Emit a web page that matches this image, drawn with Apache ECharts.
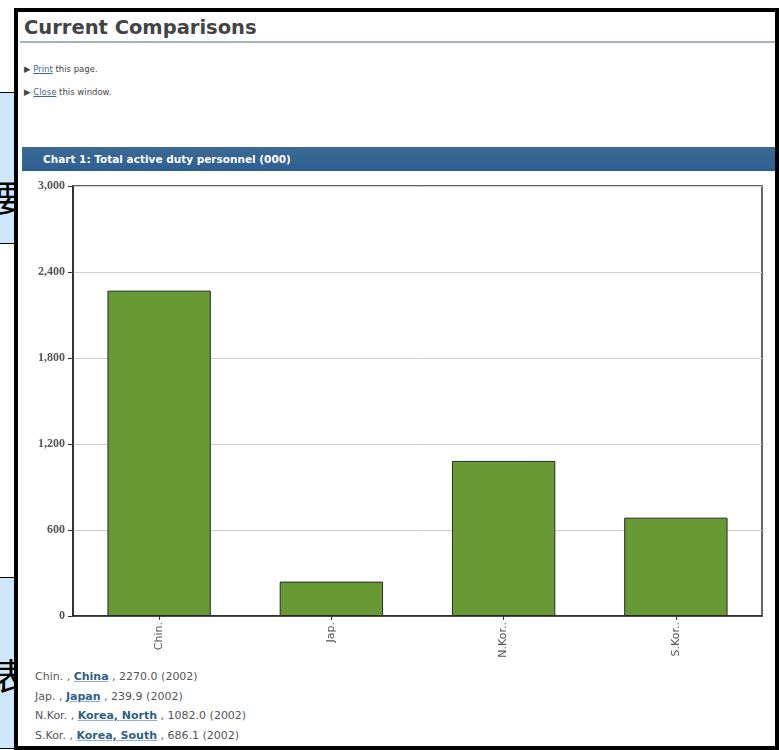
<!DOCTYPE html>
<html>
<head>
<meta charset="utf-8">
<script src="https://cdn.jsdelivr.net/npm/echarts@6/dist/echarts.min.js"></script>
<style>
  html, body { margin:0; padding:0; width:779px; height:750px; overflow:hidden; background:#fff; font-family:"DejaVu Sans", Verdana, sans-serif; }
  .abs { position:absolute; }
  .sidebox { position:absolute; left:-2px; width:60px; background:#cfe7fb; border:1px solid #000; }
  .cjk { position:absolute; font-family:"Noto Sans CJK SC"; font-size:36px; line-height:36px; color:#000; }
  #frame { position:absolute; left:14px; top:8px; width:757px; height:734px; border:4px solid #000; background:#fff; }
  #title { left:24px; top:16px; font-size:19.5px; font-weight:bold; color:#444; white-space:nowrap; }
  #titleRule { left:20px; top:41px; width:755px; height:2px; background:#a3b1c4; }
  .link { font-size:8.5px; color:#444; white-space:nowrap; }
  .link u { color:#3a6b9a; }
  #bar { left:22px; top:147px; width:753px; height:24px; background:linear-gradient(#3d6a95,#2c5f92); }
  #barText { left:43px; top:147px; height:24px; line-height:24px; font-size:10.5px; font-weight:bold; color:#fff; white-space:nowrap; }
  #notes { left:35px; top:667px; font-size:11px; color:#555; }
  #notes div { height:19.5px; line-height:19.5px; white-space:nowrap; }
  #notes b { color:#2f5f8c; text-decoration:underline; text-decoration-color:#8fb0cc; }
  #chart { position:absolute; left:0; top:0; width:779px; height:750px; }
</style>
</head>
<body>
<div class="sidebox" style="top:92px;height:150px;"></div>
<div class="cjk" style="left:-6px;top:178px;">要</div>
<div class="sidebox" style="top:577px;height:170px;"></div>
<div class="cjk" style="left:-7px;top:656px;">表</div>
<div id="frame"></div>
<div class="abs" id="title">Current Comparisons</div>
<div class="abs" id="titleRule"></div>
<div class="abs link" style="left:24px;top:64px;">&#9654; <u>Print</u> this page.</div>
<div class="abs link" style="left:24px;top:87px;">&#9654; <u>Close</u> this window.</div>
<div class="abs" id="bar"></div>
<div class="abs" id="barText">Chart 1: Total active duty personnel (000)</div>
<div class="abs" id="notes"></div>
<div id="chart"></div>
<script>
const categories = ['Chin.', 'Jap.', 'N.Kor..', 'S.Kor..'];
const countryNames = ['China', 'Japan', 'Korea, North', 'Korea, South'];
const personnel = [2270.0, 239.9, 1082.0, 686.1];
const dataYears = [2002, 2002, 2002, 2002];
const yTickLabels = ['0', '600', '1,200', '1,800', '2,400', '3,000'];

const notes = document.getElementById('notes');
categories.forEach((c, i) => {
  const d = document.createElement('div');
  const abbr = c.replace(/\.+$/, '.');
  d.innerHTML = abbr + ' , <b>' + countryNames[i] + '</b> , ' + personnel[i].toFixed(1) + ' (' + dataYears[i] + ')';
  notes.appendChild(d);
});

const chart = echarts.init(document.getElementById('chart'), null, { renderer: 'canvas' });
chart.setOption({
  backgroundColor: 'transparent',
  animation: false,
  grid: { left: 73, top: 186, right: 17, bottom: 134, show: true, borderColor: '#333', borderWidth: 1.5, containLabel: false },
  xAxis: {
    type: 'category',
    data: categories,
    axisLine: { lineStyle: { color: '#222', width: 1.5 } },
    axisTick: { show: true, alignWithLabel: true, length: 4, lineStyle: { color: '#333' } },
    axisLabel: { rotate: 90, color: '#555', fontSize: 11, fontFamily: 'DejaVu Sans', margin: 6 },
    splitLine: { show: false }
  },
  yAxis: {
    type: 'value',
    min: 0, max: 3000, interval: 600,
    axisLine: { show: true, lineStyle: { color: '#222', width: 1.5 } },
    axisTick: { show: true, length: 5, lineStyle: { color: '#333' } },
    axisLabel: { color: '#555', fontSize: 12, fontWeight: 'bold', fontFamily: 'Liberation Serif', margin: 8,
      formatter: v => yTickLabels[Math.round(v / 600)] },
    splitLine: { lineStyle: { color: '#cfcfcf', width: 1 } }
  },
  series: [{
    type: 'bar',
    data: personnel,
    barCategoryGap: '40%',
    itemStyle: { color: '#679934', borderColor: '#2a2a2a', borderWidth: 1 }
  }]
});
</script>
</body>
</html>
